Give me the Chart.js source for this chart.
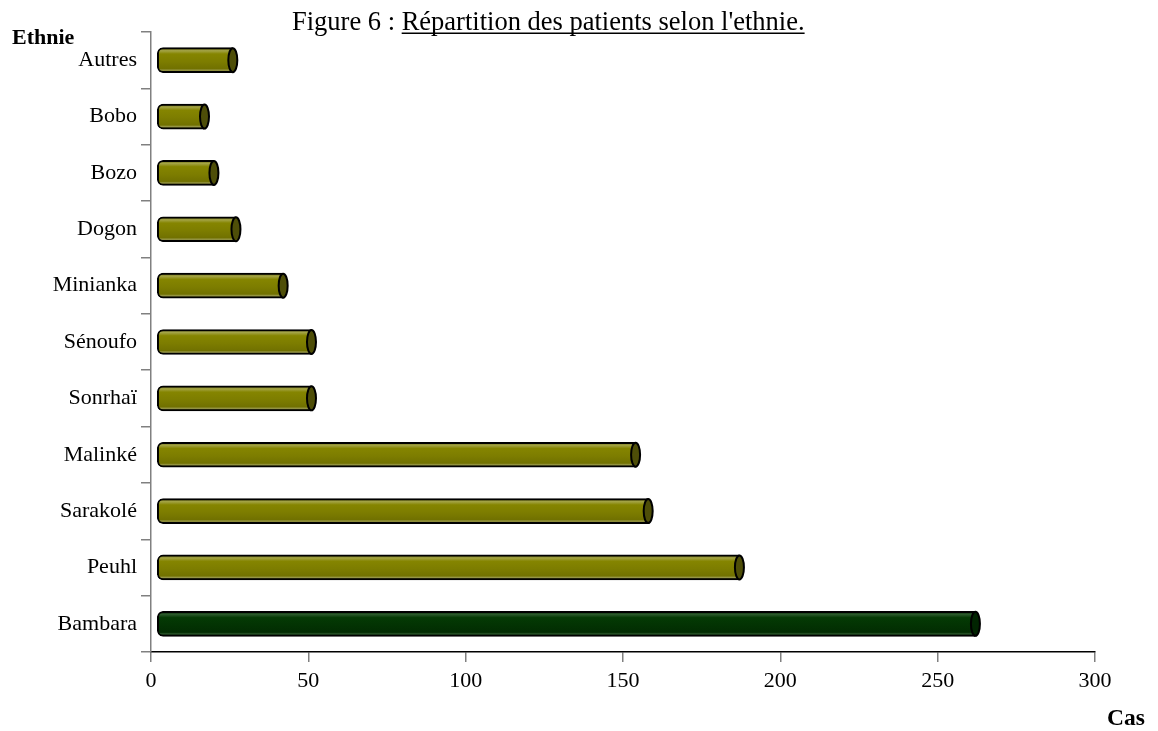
<!DOCTYPE html>
<html lang="fr">
<head>
<meta charset="utf-8">
<title>Répartition des patients selon l'ethnie</title>
<script src="https://cdn.jsdelivr.net/npm/chart.js@4/dist/chart.umd.min.js"></script>
<style>
  html, body { margin: 0; padding: 0; background: #ffffff; }
  #wrap { width: 1158px; height: 731px; position: relative; }
</style>
</head>
<body>
<div id="wrap"><canvas id="chart"></canvas></div>
<script>
// Ethnic groups, top to bottom
const ethnies = ['Autres', 'Bobo', 'Bozo', 'Dogon', 'Minianka', 'Sénoufo', 'Sonrhaï', 'Malinké', 'Sarakolé', 'Peuhl', 'Bambara'];
// Number of patients per group
const cas = [26, 17, 20, 27, 42, 51, 51, 154, 158, 187, 262];
// Value axis ticks
const xTicks = [0, 50, 100, 150, 200, 250, 300];

const titlePrefix = 'Figure 6 : ';
const titleMain = "Répartition des patients selon l'ethnie.";
const yTitle = 'Ethnie';
const xTitle = 'Cas';

const SERIF = '"Liberation Serif", "Times New Roman", serif';

// Cylinder palettes: olive for most groups, dark green for Bambara
const palettes = {
  olive: { stops: ['#5e5e00', '#a4a446', '#858500', '#7d7d00', '#717100', '#969646', '#5a5a00'], cap: '#4e4e08' },
  green: { stops: ['#002000', '#2c5a2c', '#043a04', '#033303', '#022c02', '#2a552a', '#001c00'], cap: '#012401' }
};
const paletteFor = i => (ethnies[i] === 'Bambara' ? palettes.green : palettes.olive);
const BAR_H = 25;

function bodyFill(ctx) {
  const chart = ctx.chart;
  const p = paletteFor(ctx.dataIndex);
  if (!chart.chartArea) return p.stops[3];
  const yc = chart.scales.y.getPixelForValue(ctx.dataIndex);
  const g = chart.ctx.createLinearGradient(0, yc - BAR_H / 2, 0, yc + BAR_H / 2);
  const pos = [0, 0.12, 0.25, 0.55, 0.84, 0.9, 1];
  pos.forEach((t, k) => g.addColorStop(t, p.stops[k]));
  return g;
}

// End caps of the cylinders, drawn at each bar's value end
const cylinderCaps = {
  id: 'cylinderCaps',
  afterDatasetsDraw(chart) {
    const ctx = chart.ctx;
    const meta = chart.getDatasetMeta(0);
    meta.data.forEach((bar, i) => {
      const { x, y, height } = bar.getProps(['x', 'y', 'height'], true);
      const ry = height / 2 - 0.5;
      ctx.save();
      ctx.beginPath();
      ctx.ellipse(x, y, 4.5, ry, 0, 0, Math.PI * 2);
      ctx.fillStyle = paletteFor(i).cap;
      ctx.fill();
      ctx.lineWidth = 2;
      ctx.strokeStyle = '#000000';
      ctx.stroke();
      ctx.restore();
    });
  }
};

// Title and axis names
const chartTexts = {
  id: 'chartTexts',
  afterDraw(chart) {
    const ctx = chart.ctx;
    ctx.save();
    ctx.fillStyle = '#000000';
    ctx.textBaseline = 'alphabetic';
    ctx.textAlign = 'left';
    ctx.font = '26.5px ' + SERIF;
    const x0 = 292, yb = 30;
    ctx.fillText(titlePrefix, x0, yb);
    const w0 = ctx.measureText(titlePrefix).width;
    ctx.fillText(titleMain, x0 + w0, yb);
    const w1 = ctx.measureText(titleMain).width;
    ctx.fillRect(x0 + w0, yb + 2.5, w1, 1.5);

    ctx.font = 'bold 22px ' + SERIF;
    ctx.fillText(yTitle, 12, 44);
    ctx.font = 'bold 23.5px ' + SERIF;
    ctx.fillText(xTitle, 1107, 725);
    ctx.restore();
  }
};

new Chart(document.getElementById('chart'), {
  type: 'bar',
  data: {
    labels: ethnies,
    datasets: [{
      data: cas,
      base: 2,
      backgroundColor: bodyFill,
      borderColor: '#000000',
      borderWidth: 2,
      borderSkipped: false,
      borderRadius: { topLeft: 6, bottomLeft: 6, topRight: 0, bottomRight: 0 },
      barThickness: BAR_H
    }]
  },
  options: {
    indexAxis: 'y',
    responsive: true,
    maintainAspectRatio: false,
    animation: false,
    layout: { padding: { top: 32, right: 63, bottom: 39, left: 0 } },
    plugins: { legend: { display: false }, tooltip: { enabled: false }, title: { display: false } },
    scales: {
      x: {
        type: 'linear',
        min: 0,
        max: 300,
        afterBuildTicks(scale) { scale.ticks = xTicks.map(v => ({ value: v })); },
        afterFit(scale) { scale.height = 40; },
        border: { display: true, color: '#000000', width: 1.5 },
        grid: { drawOnChartArea: false, drawTicks: true, tickLength: 10, color: '#808080', lineWidth: 1.5 },
        ticks: { color: '#000000', padding: 6, font: { family: SERIF, size: 22 } }
      },
      y: {
        type: 'category',
        offset: true,
        afterFit(scale) { scale.width = 151; },
        border: { display: true, color: '#808080', width: 1.5 },
        grid: { offset: true, drawOnChartArea: false, drawTicks: true, tickLength: 10, color: '#808080', lineWidth: 1.5 },
        ticks: { color: '#000000', padding: 4, font: { family: SERIF, size: 22 } }
      }
    }
  },
  plugins: [cylinderCaps, chartTexts]
});
</script>
</body>
</html>
